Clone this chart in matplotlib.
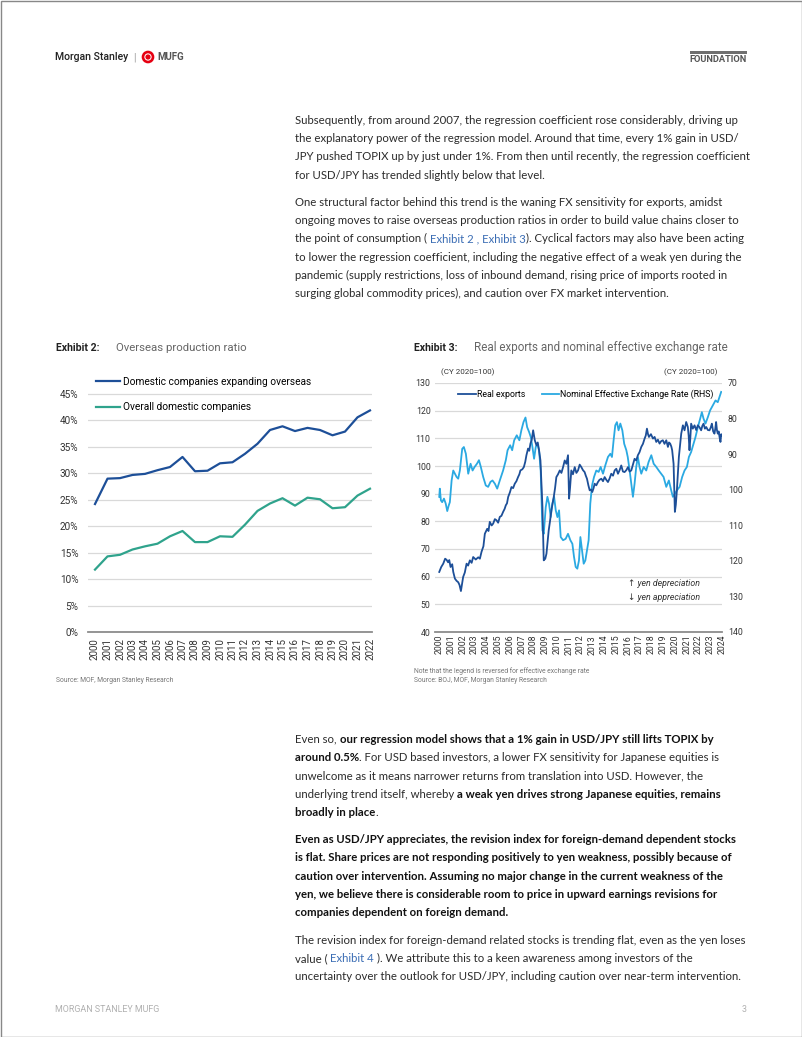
import matplotlib
matplotlib.use('Agg')
import matplotlib.pyplot as plt
from matplotlib.font_manager import FontProperties
from matplotlib.patches import Circle, Rectangle

# ---------------- data ----------------
years2 = list(range(2000, 2023))
expanding = [24.2, 29.0, 29.1, 29.7, 29.9, 30.6, 31.2, 33.1, 30.4, 30.5, 31.9, 32.1,
             33.7, 35.6, 38.2, 38.9, 38.0, 38.6, 38.2, 37.2, 37.9, 40.6, 41.9]
overall = [11.8, 14.3, 14.6, 15.6, 16.2, 16.7, 18.1, 19.1, 17.0, 17.0, 18.1, 18.0,
           20.3, 22.9, 24.3, 25.3, 23.9, 25.4, 25.1, 23.4, 23.6, 25.8, 27.1]
series2_labels = ['Domestic companies expanding overseas', 'Overall domestic companies']

exp_t = [2000.00, 2000.17, 2000.34, 2000.50, 2000.62, 2000.75, 2000.85, 2000.96, 2001.10, 2001.19,
         2001.33, 2001.47, 2001.61, 2001.72, 2001.84, 2002.03, 2002.17, 2002.32, 2002.45, 2002.60,
         2002.75, 2002.88, 2003.10, 2003.31, 2003.45, 2003.59, 2003.75, 2003.87, 2004.07, 2004.18,
         2004.29, 2004.45, 2004.58, 2004.72, 2004.86, 2005.00, 2005.14, 2005.28, 2005.42, 2005.55,
         2005.65, 2005.75, 2005.85, 2006.00, 2006.13, 2006.27, 2006.41, 2006.55, 2006.69, 2006.80,
         2006.89, 2007.05, 2007.18, 2007.30, 2007.40, 2007.54, 2007.64, 2007.74, 2007.85, 2007.97,
         2008.11, 2008.25, 2008.36, 2008.47, 2008.59, 2008.76, 2008.87, 2009.00, 2009.10, 2009.29,
         2009.40, 2009.52, 2009.62, 2009.72, 2009.83, 2009.94, 2010.08, 2010.23, 2010.37, 2010.51,
         2010.65, 2010.79, 2010.93, 2011.02, 2011.10, 2011.21, 2011.35, 2011.50, 2011.64, 2011.78,
         2011.92, 2012.06, 2012.20, 2012.34, 2012.44, 2012.54, 2012.66, 2012.77, 2012.88, 2012.99,
         2013.10, 2013.19, 2013.33, 2013.47, 2013.60, 2013.76, 2013.90, 2014.04, 2014.18, 2014.32,
         2014.46, 2014.60, 2014.75, 2014.89, 2015.03, 2015.17, 2015.31, 2015.45, 2015.59, 2015.73,
         2015.88, 2016.02, 2016.16, 2016.30, 2016.44, 2016.58, 2016.72, 2016.86, 2017.00, 2017.15,
         2017.29, 2017.43, 2017.53, 2017.63, 2017.72, 2017.80, 2017.97, 2018.14, 2018.28, 2018.42,
         2018.56, 2018.70, 2018.84, 2018.98, 2019.12, 2019.27, 2019.41, 2019.50, 2019.60, 2019.70,
         2019.77, 2019.89, 2020.00, 2020.08, 2020.17, 2020.34, 2020.45, 2020.54, 2020.68, 2020.82,
         2020.96, 2021.10, 2021.17, 2021.24, 2021.31, 2021.38, 2021.52, 2021.67, 2021.81, 2021.95,
         2022.09, 2022.23, 2022.33, 2022.43, 2022.55, 2022.66, 2022.80, 2022.94, 2023.05, 2023.14,
         2023.25, 2023.36, 2023.43, 2023.50, 2023.57, 2023.64, 2023.72, 2023.79, 2023.87, 2023.93,
         2023.98]
exp_v = [61.7, 63.5, 64.7, 66.5, 66.1, 65.2, 66.0, 63.5, 64.5, 61.7,
         59.3, 58.5, 58.0, 57.0, 54.8, 59.9, 61.5, 64.7, 64.0, 65.9,
         65.0, 67.1, 66.2, 67.0, 66.5, 69.0, 71.0, 75.5, 77.3, 76.5,
         79.8, 78.5, 79.2, 80.8, 80.4, 79.5, 81.6, 82.0, 83.4, 84.5,
         85.8, 86.5, 88.8, 90.5, 92.4, 92.0, 93.6, 94.5, 96.0, 97.0,
         98.4, 98.8, 99.6, 101.5, 103.9, 106.3, 105.5, 108.1, 109.5, 112.9,
         109.3, 107.5, 108.5, 105.7, 102.0, 85.2, 65.9, 66.5, 68.3, 76.7,
         80.0, 84.0, 86.5, 88.8, 92.0, 96.0, 97.0, 98.4, 97.5, 99.6,
         102.0, 100.8, 103.9, 88.2, 92.0, 98.4, 97.0, 99.6, 97.5, 98.4,
         100.5, 99.6, 98.5, 97.8, 96.5, 95.4, 93.0, 91.2, 91.5, 90.6,
         92.0, 93.6, 93.0, 94.2, 95.0, 95.4, 94.5, 96.0, 95.0, 94.2,
         95.5, 97.2, 96.5, 98.4, 99.0, 97.2, 98.5, 100.2, 98.0, 97.8,
         98.5, 99.6, 98.0, 98.4, 100.5, 102.6, 102.0, 103.9, 105.0, 106.9,
         108.0, 109.9, 111.0, 113.5, 111.5, 110.5, 111.5, 109.9, 110.5, 108.7,
         109.5, 108.1, 109.0, 109.3, 108.0, 109.3, 106.9, 108.5, 108.1, 107.0,
         105.7, 100.8, 83.4, 86.0, 91.2, 103.3, 108.0, 111.7, 114.7, 112.9,
         115.9, 114.1, 111.0, 105.7, 110.0, 115.3, 113.5, 114.7, 113.0, 114.7,
         114.0, 112.9, 114.5, 115.3, 113.5, 114.1, 113.0, 112.9, 114.0, 115.3,
         112.5, 111.7, 113.5, 115.9, 113.0, 111.7, 112.5, 110.5, 108.7, 111.5,
         111.1]

neer_t = [2000.00, 2000.05, 2000.14, 2000.25, 2000.40, 2000.55, 2000.68, 2000.80, 2000.90, 2001.05,
          2001.19, 2001.33, 2001.47, 2001.61, 2001.75, 2001.95, 2002.09, 2002.26, 2002.46, 2002.66,
          2002.83, 2003.00, 2003.20, 2003.37, 2003.53, 2003.73, 2003.95, 2004.15, 2004.35, 2004.52,
          2004.72, 2004.92, 2005.14, 2005.42, 2005.65, 2005.80, 2006.02, 2006.19, 2006.36, 2006.58,
          2006.80, 2006.97, 2007.15, 2007.32, 2007.46, 2007.63, 2007.77, 2007.91, 2008.05, 2008.19,
          2008.33, 2008.47, 2008.61, 2008.76, 2008.87, 2009.04, 2009.18, 2009.32, 2009.46, 2009.60,
          2009.75, 2009.89, 2010.03, 2010.17, 2010.31, 2010.51, 2010.73, 2010.93, 2011.13, 2011.30,
          2011.44, 2011.58, 2011.72, 2011.86, 2011.98, 2012.12, 2012.26, 2012.40, 2012.54, 2012.68,
          2012.82, 2012.97, 2013.14, 2013.33, 2013.53, 2013.70, 2013.90, 2014.10, 2014.32, 2014.52,
          2014.66, 2014.80, 2014.94, 2015.08, 2015.22, 2015.37, 2015.54, 2015.70, 2015.88, 2016.00,
          2016.16, 2016.33, 2016.44, 2016.58, 2016.72, 2016.86, 2017.00, 2017.15, 2017.35, 2017.57,
          2017.77, 2018.00, 2018.20, 2018.42, 2018.63, 2018.84, 2019.04, 2019.27, 2019.49, 2019.69,
          2019.83, 2020.00, 2020.17, 2020.40, 2020.62, 2020.82, 2021.02, 2021.19, 2021.38, 2021.58,
          2021.75, 2021.95, 2022.15, 2022.29, 2022.43, 2022.60, 2022.80, 2022.99, 2023.22, 2023.45,
          2023.64, 2023.79, 2023.93]
neer_v = [102.0, 99.7, 103.0, 103.5, 102.5, 103.9, 106.0, 104.5, 103.5, 97.4,
          94.6, 95.5, 96.4, 96.9, 94.6, 88.5, 88.0, 89.9, 95.5, 92.7,
          94.6, 93.6, 92.7, 91.7, 93.6, 96.4, 98.8, 99.2, 97.8, 97.4,
          98.3, 99.7, 97.4, 94.6, 91.7, 88.9, 87.5, 88.9, 86.1, 84.7,
          86.1, 83.3, 81.0, 79.7, 82.4, 83.8, 85.2, 88.0, 91.3, 88.0,
          87.1, 88.9, 94.6, 111.4, 112.4, 104.9, 102.0, 103.9, 107.7, 103.9,
          102.0, 105.8, 107.7, 105.8, 113.3, 114.2, 113.8, 112.4, 114.2, 115.2,
          118.9, 121.7, 122.2, 119.9, 113.3, 117.0, 120.8, 119.9, 117.0, 114.2,
          103.9, 98.8, 96.4, 94.6, 95.0, 93.6, 95.5, 93.1, 90.8, 89.9,
          90.8, 86.1, 81.9, 81.0, 83.3, 81.4, 83.3, 87.1, 88.9, 90.8,
          94.6, 99.2, 102.0, 98.3, 93.6, 90.8, 93.6, 95.5, 93.6, 94.6,
          92.2, 90.3, 92.7, 93.6, 94.6, 95.5, 96.4, 99.2, 97.4, 100.2,
          102.0, 101.1, 100.2, 99.2, 96.4, 94.6, 93.6, 90.8, 89.4, 87.1,
          85.2, 82.4, 80.0, 78.2, 80.0, 81.4, 79.6, 77.7, 76.3, 74.9,
          75.4, 73.9, 72.5]
series3_labels = ['Real exports', 'Nominal Effective Exchange Rate (RHS)']
years3 = list(range(2000, 2025))

# ---------------- figure ----------------
W, H = 802, 1037
fig = plt.figure(figsize=(W / 100, H / 100), dpi=100, facecolor='white')
renderer = fig.canvas.get_renderer()


def frect(x0, y0, x1, y1):
    return [x0 / W, 1 - y1 / H, (x1 - x0) / W, (y1 - y0) / H]


page = fig.add_axes([0, 0, 1, 1])
page.set_xlim(0, W)
page.set_ylim(H, 0)
page.axis('off')
page.set_zorder(10)
page.patch.set_visible(False)

CH = ['Roboto', 'DejaVu Sans']
DARK = '#1d4f98'
TEAL = '#2fa38c'
LIGHT = '#2aa9e2'
GRID = '#d9d9d9'
AXC = '#8c8c8c'
TXT = '#333333'

# ---------------- Exhibit 2 ----------------
ax1 = fig.add_axes(frect(88, 367.6, 372, 632))
ax1.patch.set_visible(False)
ax1.plot(years2, expanding, color=DARK, lw=1.6, label=series2_labels[0])
ax1.plot(years2, overall, color=TEAL, lw=1.6, label=series2_labels[1])
ax1.set_xlim(1999.44, 2022.16)
ax1.set_ylim(0, 50)
ax1.set_yticks(range(0, 50, 5))
ax1.set_yticklabels([f'{v}%' for v in range(0, 50, 5)], family=CH, fontsize=7.2, color=TXT)
ax1.set_xticks(years2)
ax1.set_xticklabels([str(y) for y in years2], rotation=90, family=CH, fontsize=7.0, color=TXT)
ax1.grid(axis='y', color=GRID, lw=0.9)
ax1.set_axisbelow(True)
for s in ['top', 'right', 'left']:
    ax1.spines[s].set_visible(False)
ax1.spines['bottom'].set_color(AXC)
ax1.spines['bottom'].set_linewidth(1.3)
ax1.tick_params(axis='both', length=0)
ax1.tick_params(axis='y', pad=7)
ax1.tick_params(axis='x', pad=4.5)
ax1.legend(loc='center left', bbox_to_anchor=(96, 394.5), bbox_transform=page.transData,
           frameon=False, prop=FontProperties(family=CH, size=7.3), handlelength=2.4,
           handletextpad=0.25, labelspacing=1.55, borderpad=0, borderaxespad=0)

page.text(56, 348, 'Exhibit 2:', fontsize=7.6, fontweight='bold', color='#222222', family=CH, va='center')
page.text(116, 348, 'Overseas production ratio', fontsize=8.2, color='#666666', family=CH, va='center')
page.text(56, 680, 'Source: MOF, Morgan Stanley Research', fontsize=4.9, color='#777777', family=CH, va='center')

# ---------------- Exhibit 3 ----------------
ax = fig.add_axes(frect(435, 383, 722, 632))
ax.set_zorder(1)
ax.patch.set_visible(False)
ax.set_xlim(1999.64, 2024.0)
ax.set_ylim(40, 130)
ax.set_yticks(range(40, 131, 10))
ax.set_yticklabels([str(v) for v in range(40, 131, 10)], family=CH, fontsize=6.3, color=TXT)
ax.set_xticks(years3)
ax.set_xticklabels([str(y) for y in years3], rotation=90, family=CH, fontsize=6.3, color=TXT)
ax.grid(axis='y', color=GRID, lw=0.9)
ax.set_axisbelow(True)
for s in ['top', 'right', 'left']:
    ax.spines[s].set_visible(False)
ax.spines['bottom'].set_color(AXC)
ax.spines['bottom'].set_linewidth(1.3)
ax.tick_params(axis='both', length=0)
ax.tick_params(axis='y', pad=3.2)
ax.tick_params(axis='x', pad=2)

ax2 = ax.twinx()
ax2.set_zorder(2)
ax2.patch.set_visible(False)
l2, = ax2.plot(neer_t, neer_v, color=LIGHT, lw=1.3, label=series3_labels[1])
ax2.set_ylim(140, 70)
ax2.set_yticks(range(70, 141, 10))
ax2.set_yticklabels([str(v) for v in range(70, 141, 10)], family=CH, fontsize=6.3, color=TXT)
for s in ax2.spines.values():
    s.set_visible(False)
ax2.tick_params(axis='y', length=0, pad=4.3)

ax3 = ax.twinx()
ax3.set_zorder(3)
ax3.patch.set_visible(False)
l1, = ax3.plot(exp_t, exp_v, color=DARK, lw=1.3, label=series3_labels[0])
ax3.set_ylim(40, 130)
ax3.set_yticks([])
for s in ax3.spines.values():
    s.set_visible(False)
ax3.legend([l1, l2], series3_labels, ncol=2, loc='center left', bbox_to_anchor=(458, 394),
           bbox_transform=page.transData, frameon=False, prop=FontProperties(family=CH, size=6.3),
           handlelength=2.0, handletextpad=0.15, columnspacing=1.9, borderpad=0, borderaxespad=0)

page.text(414, 348, 'Exhibit 3:', fontsize=7.6, fontweight='bold', color='#222222', family=CH, va='center')
page.text(474, 348, 'Real exports and nominal effective exchange rate', fontsize=8.4, color='#666666',
          family=CH, va='center')
page.text(441, 372, '(CY 2020=100)', fontsize=5.8, color=TXT, family=CH, va='center')
page.text(717, 372, '(CY 2020=100)', fontsize=5.8, color=TXT, family=CH, va='center', ha='right')
page.text(628, 584, '\u2191 yen depreciation', fontsize=6.3, color=TXT, family=CH, style='italic', va='center')
page.text(628, 597, '\u2193 yen appreciation', fontsize=6.3, color=TXT, family=CH, style='italic', va='center')
page.text(414, 671, 'Note that the legend is reversed for effective exchange rate', fontsize=4.9,
          color='#777777', family=CH, va='center')
page.text(414, 680, 'Source: BOJ, MOF, Morgan Stanley Research', fontsize=4.9, color='#777777',
          family=CH, va='center')

# ---------------- header / footer ----------------
page.text(55, 57, 'Morgan Stanley', fontsize=7.6, color='#222222', family=CH, va='center', fontweight='medium')
page.text(133, 57, '|', fontsize=7.6, color='#999999', family=CH, va='center')
page.add_patch(Circle((148, 57), 5.0, fill=False, ec='#e60012', lw=1.9))
page.add_patch(Circle((148, 57), 1.9, color='#e60012'))
page.text(157, 57, 'MUFG', fontsize=7.0, color='#555555', family=CH, va='center', fontweight='bold')
page.add_patch(Rectangle((690, 51), 57, 2.6, color='#6f6f6f', lw=0))
page.text(747, 59, 'FOUNDATION', fontsize=6.7, color='#555555', family=CH, va='center', ha='right',
          fontweight='bold')
page.text(55, 1010, 'MORGAN STANLEY MUFG', fontsize=6.4, color='#b0b0b0', family=CH, va='center')
page.text(747, 1010, '3', fontsize=6.4, color='#b0b0b0', family=CH, va='center', ha='right')
page.add_patch(Rectangle((0.5, 0.5), W - 1, H - 1, fill=False, ec='#888888', lw=1.0))

# ---------------- body text ----------------
BODY = ['Lato', 'DejaVu Sans']


def tw(s, weight, fs):
    fp = FontProperties(family=BODY, weight=weight, size=fs)
    w, h, d = renderer.get_text_width_height_descent(s, fp, ismath=False)
    return w


fs = 10 * 442 / tw('Subsequently, from around 2007, the regression coefficient rose considerably, driving up',
                   'normal', 10)

COL = {'n': '#2b2b2b', 'b': '#111111', 'l': '#3b6db4'}


def draw_line(x, y, segs):
    for s, st in segs:
        weight = 'bold' if st == 'b' else 'normal'
        page.text(x, y, s, fontsize=fs, fontweight=weight, color=COL[st], family=BODY,
                  ha='left', va='baseline')
        x += tw(s + '|', weight, fs) - tw('|', weight, fs)


def block(y0, lines, step=18.25):
    for i, segs in enumerate(lines):
        if isinstance(segs, str):
            segs = [(segs, 'n')]
        draw_line(295, y0 + i * step, segs)


block(123.8, [
    'Subsequently, from around 2007, the regression coefficient rose considerably, driving up',
    'the explanatory power of the regression model. Around that time, every 1% gain in USD/',
    'JPY pushed TOPIX up by just under 1%. From then until recently, the regression coefficient',
    'for USD/JPY has trended slightly below that level.',
])
block(206.0, [
    'One structural factor behind this trend is the waning FX sensitivity for exports, amidst',
    'ongoing moves to raise overseas production ratios in order to build value chains closer to',
    [('the point of consumption ( ', 'n'), ('Exhibit 2 , Exhibit 3', 'l'),
     ('). Cyclical factors may also have been acting', 'n')],
    'to lower the regression coefficient, including the negative effect of a weak yen during the',
    'pandemic (supply restrictions, loss of inbound demand, rising price of imports rooted in',
    'surging global commodity prices), and caution over FX market intervention.',
])
block(742.8, [
    [('Even so, ', 'n'), ('our regression model shows that a 1% gain in USD/JPY still lifts TOPIX by', 'b')],
    [('around 0.5%', 'b'), ('. For USD based investors, a lower FX sensitivity for Japanese equities is', 'n')],
    'unwelcome as it means narrower returns from translation into USD. However, the',
    [('underlying trend itself, whereby ', 'n'), ('a weak yen drives strong Japanese equities, remains', 'b')],
    [('broadly in place', 'b'), ('.', 'n')],
])
block(843.0, [[(s, 'b')] for s in [
    'Even as USD/JPY appreciates, the revision index for foreign-demand dependent stocks',
    'is flat. Share prices are not responding positively to yen weakness, possibly because of',
    'caution over intervention. Assuming no major change in the current weakness of the',
    'yen, we believe there is considerable room to price in upward earnings revisions for',
    'companies dependent on foreign demand.',
]])
block(943.6, [
    'The revision index for foreign-demand related stocks is trending flat, even as the yen loses',
    [('value ( ', 'n'), ('Exhibit 4 ', 'l'), ('). We attribute this to a keen awareness among investors of the', 'n')],
    'uncertainty over the outlook for USD/JPY, including caution over near-term intervention.',
])

fig.savefig('out.png', dpi=100, facecolor='white')
